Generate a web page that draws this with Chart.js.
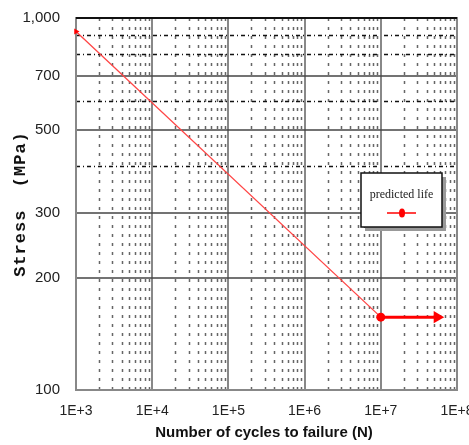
<!DOCTYPE html>
<html lang="en">
<head>
<meta charset="UTF-8">
<title>S-N curve - predicted life</title>
<script src="https://cdn.jsdelivr.net/npm/chart.js@4"></script>
<style>
  html, body { margin: 0; padding: 0; background: #fff; }
</style>
</head>
<body>
<canvas id="chart" width="469" height="445"></canvas>
<script>
// S-N data
const cycles = [1e3, 1e7];
const stress = [920, 157];
const runoutCycles = [1e7, 5.5e7];
const runoutStress = [157, 157];

// axis ticks
const xDecades = [1e3, 1e4, 1e5, 1e6, 1e7, 1e8];
const xLabels = ['1E+3', '1E+4', '1E+5', '1E+6', '1E+7', '1E+8'];
const yTicks = [100, 200, 300, 400, 500, 600, 700, 800, 900, 1000];
const yLabels = { 100: '100', 200: '200', 300: '300', 500: '500', 700: '700', 1000: '1,000' };
const yDashed = [400, 600, 800, 900];
const ySolid = [200, 300, 500, 700];

const labelFont = '"Liberation Sans", Arial, sans-serif';

function hLine(ctx, a, py) {
    ctx.beginPath(); ctx.moveTo(a.left, py); ctx.lineTo(a.right, py); ctx.stroke();
}
function vLine(ctx, a, px) {
    ctx.beginPath(); ctx.moveTo(px, a.top); ctx.lineTo(px, a.bottom); ctx.stroke();
}

// grid lines drawn under the data
const gridPlugin = {
    id: 'grid',
    beforeDatasetsDraw(chart) {
        const { ctx, chartArea: a, scales: { x, y } } = chart;
        ctx.save();
        // minor vertical lines (2..9 in each decade)
        ctx.strokeStyle = '#666';
        ctx.lineWidth = 1.5;
        ctx.setLineDash([3, 6]);
        xDecades.slice(0, -1).forEach(d => {
            for (let m = 2; m <= 9; m++) vLine(ctx, a, Math.round(x.getPixelForValue(d * m)) + 0.5);
        });
        // dashed horizontal lines
        ctx.strokeStyle = '#111';
        ctx.lineWidth = 1.3;
        ctx.setLineDash([4, 3, 1, 3]);
        yDashed.forEach(v => hLine(ctx, a, Math.round(y.getPixelForValue(v)) + 0.5));
        ctx.setLineDash([]);
        // decade verticals
        ctx.strokeStyle = '#888';
        ctx.lineWidth = 2;
        xDecades.slice(1, -1).forEach(d => vLine(ctx, a, Math.round(x.getPixelForValue(d))));
        // solid horizontals
        ctx.strokeStyle = '#444';
        ctx.lineWidth = 1.5;
        ySolid.forEach(v => hLine(ctx, a, Math.round(y.getPixelForValue(v))));
        // frame
        ctx.strokeStyle = '#888';
        ctx.lineWidth = 2;
        ctx.strokeRect(a.left, a.top, a.right - a.left, a.bottom - a.top);
        ctx.strokeStyle = '#111';
        hLine(ctx, a, a.top);
        ctx.restore();
    }
};

// legend box and axis titles
const decorPlugin = {
    id: 'decor',
    afterDraw(chart) {
        const { ctx } = chart;
        ctx.save();
        // legend
        const lx = 361, ly = 173, lw = 81, lh = 54;
        ctx.fillStyle = '#999';
        ctx.fillRect(lx + 4, ly + 4, lw, lh);
        ctx.fillStyle = '#fff';
        ctx.fillRect(lx, ly, lw, lh);
        ctx.strokeStyle = '#111';
        ctx.lineWidth = 1.5;
        ctx.strokeRect(lx, ly, lw, lh);
        ctx.fillStyle = '#222';
        ctx.font = '12px "Liberation Serif", serif';
        ctx.textAlign = 'center';
        ctx.textBaseline = 'middle';
        ctx.fillText('predicted life', lx + lw / 2, ly + 22);
        ctx.strokeStyle = 'red';
        ctx.lineWidth = 1.5;
        ctx.beginPath(); ctx.moveTo(lx + 26, ly + 40); ctx.lineTo(lx + 55, ly + 40); ctx.stroke();
        ctx.fillStyle = 'red';
        ctx.beginPath(); ctx.ellipse(lx + 41, ly + 40, 3, 4.5, 0, 0, Math.PI * 2); ctx.fill();

        // x title
        ctx.fillStyle = '#111';
        ctx.font = 'bold 15px ' + labelFont;
        ctx.fillText('Number of cycles to failure (N)', 264, 433);
        // y title
        ctx.translate(21, 204);
        ctx.rotate(-Math.PI / 2);
        ctx.font = 'bold 17px "Liberation Mono", monospace';
        ctx.letterSpacing = '1px';
        ctx.fillText('Stress  (MPa)', 0, 0);
        ctx.restore();
    }
};

const ctx = document.getElementById('chart').getContext('2d');
const chart = new Chart(ctx, {
    type: 'line',
    data: {
        datasets: [{
            label: 'predicted life',
            data: runoutCycles.map((c, i) => ({ x: c, y: runoutStress[i] })),
            borderColor: 'red',
            backgroundColor: 'red',
            borderWidth: 3,
            pointStyle: ['circle', 'triangle'],
            pointRadius: [4.5, 7],
            rotation: [0, 90],
            pointBorderWidth: 0,
            clip: false
        }, {
            label: 'S-N',
            data: cycles.map((c, i) => ({ x: c, y: stress[i] })),
            borderColor: '#ff4444',
            backgroundColor: 'red',
            borderWidth: 1.3,
            pointStyle: 'triangle',
            pointRadius: [3.5, 0],
            rotation: [-30, 0],
            pointBorderWidth: 0,
            clip: false
        }]
    },
    options: {
        responsive: false,
        animation: false,
        layout: { padding: { top: 18, right: 12, left: 0, bottom: 0 } },
        plugins: { legend: { display: false }, tooltip: { enabled: false } },
        scales: {
            x: {
                type: 'logarithmic',
                min: 1e3,
                max: 1e8,
                afterBuildTicks: s => { s.ticks = xDecades.map(v => ({ value: v })); },
                afterFit: s => { s.height = 55; s.paddingLeft = 0; s.paddingRight = 0; },
                grid: { display: false },
                border: { display: false },
                ticks: {
                    autoSkip: false,
                    maxRotation: 0,
                    padding: 5,
                    color: '#222',
                    font: { family: labelFont, size: 14 },
                    callback: (v, i) => xLabels[i]
                }
            },
            y: {
                type: 'logarithmic',
                min: 100,
                max: 1000,
                afterBuildTicks: s => { s.ticks = yTicks.map(v => ({ value: v })); },
                afterFit: s => { s.width = 76; s.paddingTop = 0; s.paddingBottom = 0; },
                grid: { display: false },
                border: { display: false },
                ticks: {
                    autoSkip: false,
                    padding: 8,
                    color: '#222',
                    font: { family: labelFont, size: 15 },
                    callback: v => yLabels[v] || ''
                }
            }
        }
    },
    plugins: [gridPlugin, decorPlugin]
});
</script>
</body>
</html>
